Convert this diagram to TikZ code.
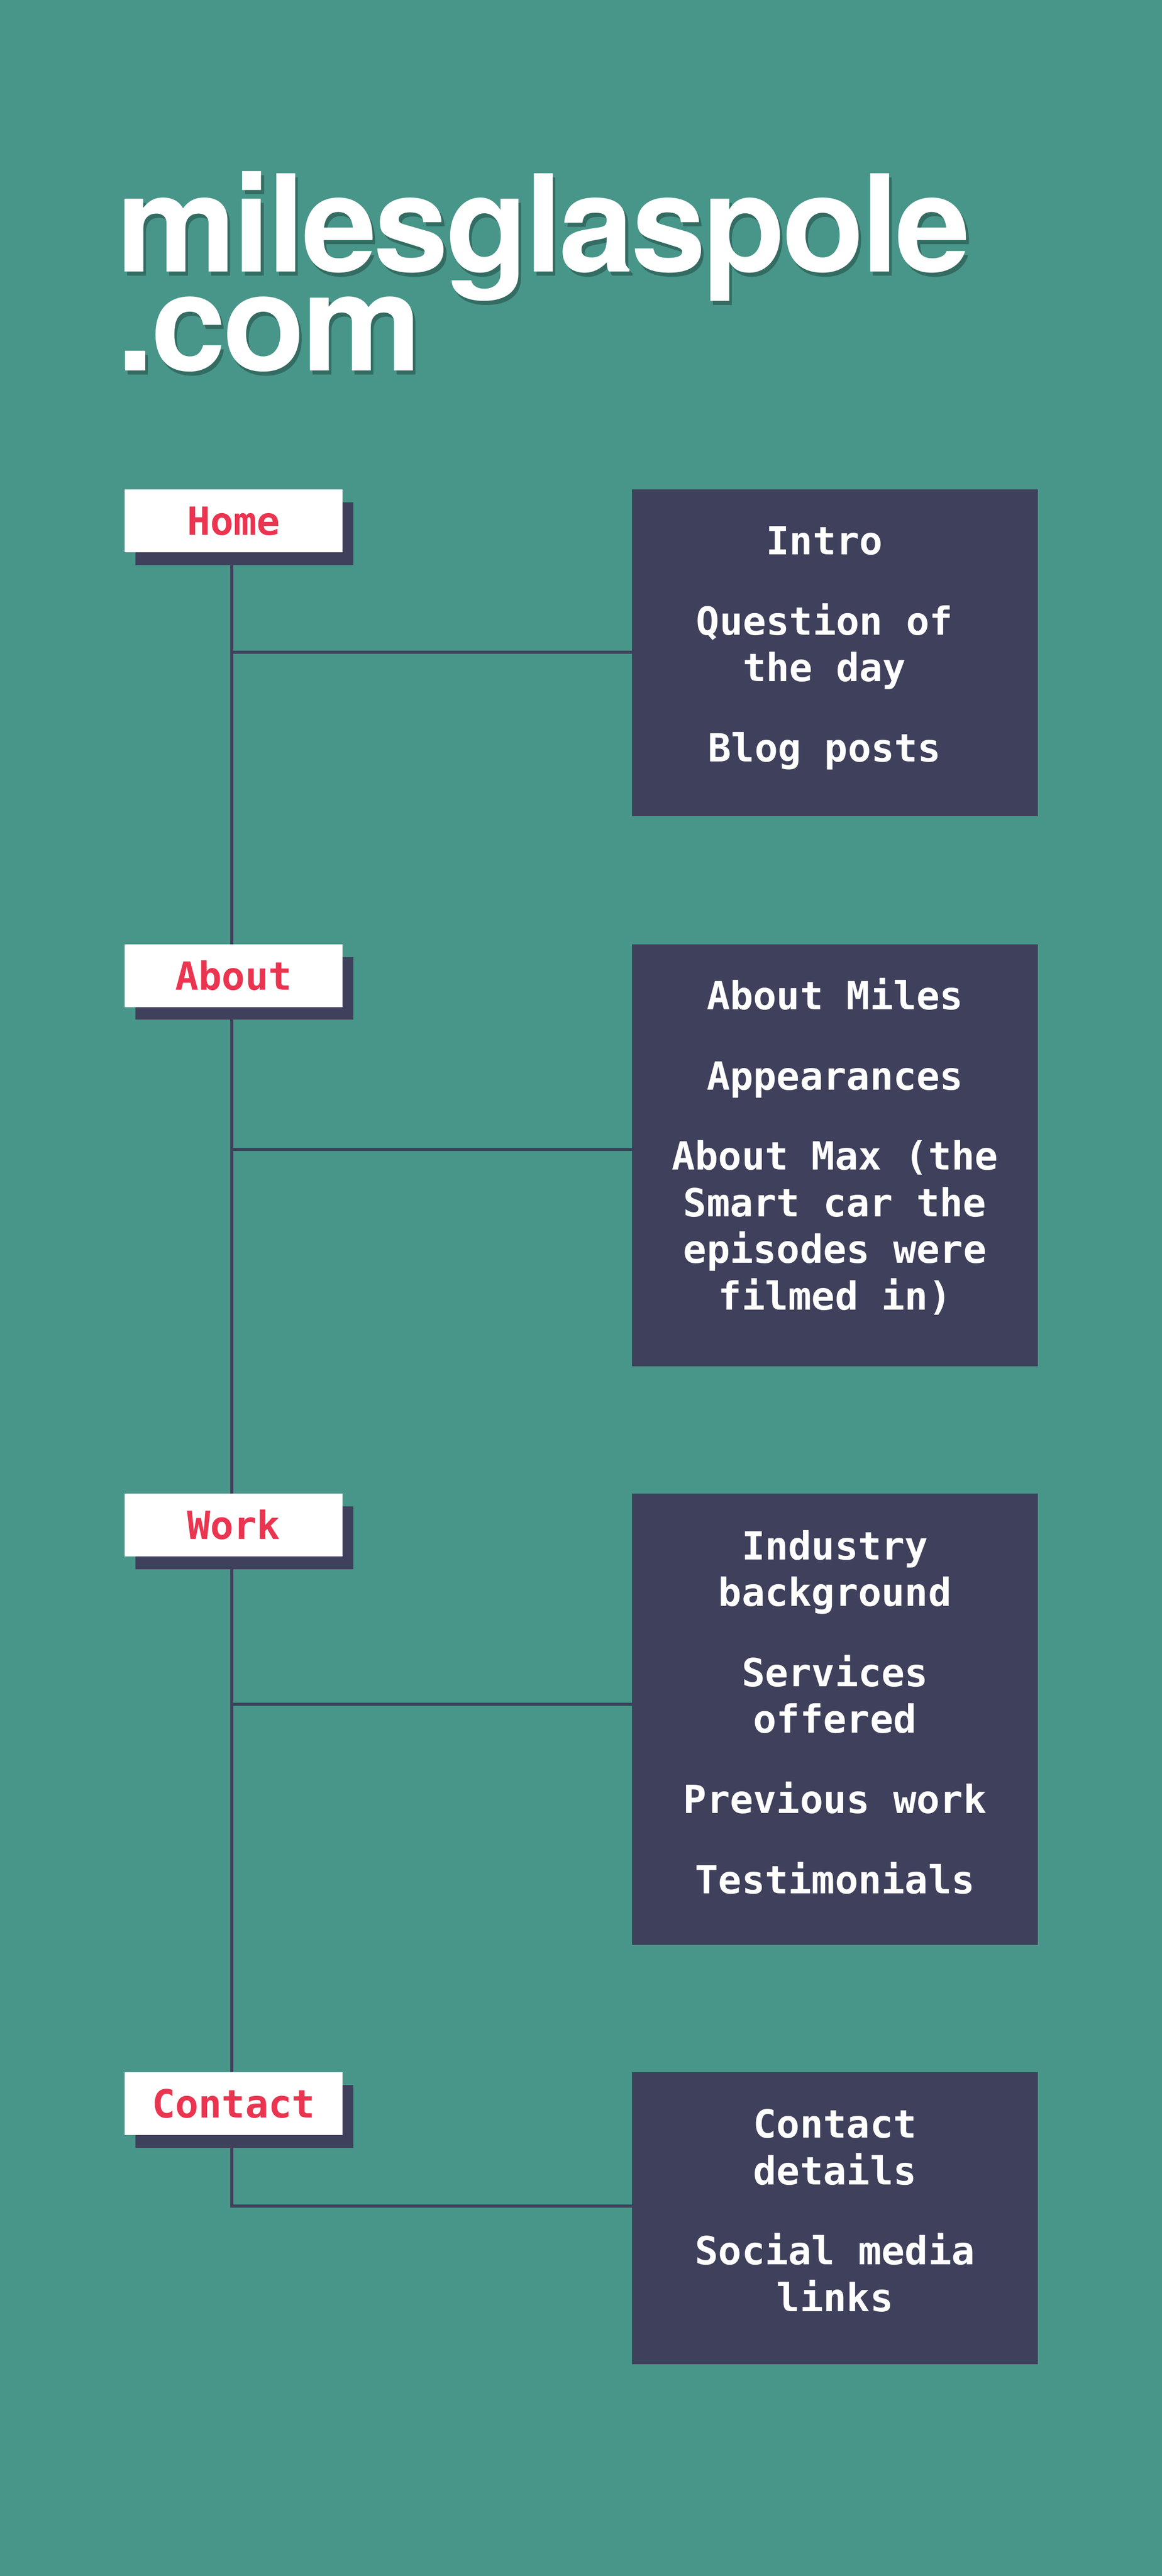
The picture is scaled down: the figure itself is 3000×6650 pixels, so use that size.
\documentclass[tikz,border=0pt]{standalone}
\usepackage{fontspec}
\usepackage{tikz}
\usetikzlibrary{positioning,shadows}
\setmainfont{TeX Gyre Heros}
\newfontfamily\titlefont{TeX Gyre Heros}[LetterSpace=-2.3]
\newfontfamily\monofont{DejaVu Sans Mono}
\definecolor{sitegreen}{RGB}{72,150,137}
\definecolor{sitenavy}{RGB}{63,64,91}
\definecolor{sitered}{RGB}{235,52,80}
\newcommand{\itemgap}{8.7mm}
\newcommand{\listfont}{\monofont\bfseries\fontsize{28.45pt}{34.2pt}\selectfont\spaceskip=0.602em\relax}
\setlength{\lineskiplimit}{-200pt}
\pgfdeclarelayer{back}
\pgfdeclarelayer{lines}
\pgfsetlayers{back,lines,main}
\tikzset{
    %Define style for the site name
    sitetitle/.style={
           anchor=north west,
           inner sep=0pt,
           align=left,
           font=\titlefont\bfseries\fontsize{99pt}{72.6pt}\selectfont,
           },
    %Define style for menu labels
    navlabel/.style={
           rectangle,
           fill=white,
           minimum width=56.3mm,
           minimum height=16.2mm,
           inner sep=0pt,
           text height=7.3mm,
           text depth=0pt,
           font=\listfont,
           text=sitered,
           drop shadow={shadow xshift=2.8mm, shadow yshift=-3.3mm,
                        fill=sitenavy, opacity=1},
           },
    %Define style for page boxes
    pagebox/.style={
           rectangle,
           fill=sitenavy,
           minimum width=104.8mm,
           inner sep=0pt,
           },
    pagelist/.style={
           anchor=base,
           inner sep=0pt,
           text width=98mm,
           align=flush center,
           text=white,
           font=\listfont,
           },
    % Define line style
    branch/.style={
           draw=sitenavy,
           line width=0.8mm,},
}

\begin{document}
\begin{tikzpicture}[x=0.1mm,y=-0.1mm]
\begin{pgfonlayer}{back}
\fill[sitegreen] (0,0) rectangle (3000,6650);
\end{pgfonlayer}

 %title
\node[sitetitle, text=black, text opacity=0.28] (shade) at (307,452) {milesglaspole\\.com};
\node[sitetitle, text=white] (title) at (300,442) {milesglaspole\\.com};

 %menu labels
\node[navlabel, anchor=north west] (home) at (321,1263) {Home};
\node[navlabel, anchor=north west] (about) at (321,2437) {About};
\node[navlabel, anchor=north west] (work) at (321,3855) {Work};
\node[navlabel, anchor=north west] (contact) at (321,5349) {Contact};

 %page boxes
\node[pagebox, minimum height=84.3mm, right=74.6mm of home.north east, anchor=north west] (homebox) {};
\node[pagebox, minimum height=108.9mm, right=74.6mm of about.north east, anchor=north west] (aboutbox) {};
\node[pagebox, minimum height=116.5mm, right=74.6mm of work.north east, anchor=north west] (workbox) {};
\node[pagebox, minimum height=75.4mm, right=74.6mm of contact.north east, anchor=north west] (contactbox) {};

\coordinate (homejoin) at ([yshift=-42.1mm]homebox.north west);
\coordinate (aboutjoin) at ([yshift=-53mm]aboutbox.north west);
\coordinate (workjoin) at ([yshift=-54.5mm]workbox.north west);
\coordinate (contactjoin) at ([yshift=-34.6mm]contactbox.north west);

 %lines
\begin{pgfonlayer}{lines}
\path[branch] ([xshift=-0.45mm]home.south) |- (contactjoin);
\path[branch] ([xshift=-0.45mm]home.south |- homejoin) -- (homejoin);
\path[branch] ([xshift=-0.45mm]home.south |- aboutjoin) -- (aboutjoin);
\path[branch] ([xshift=-0.45mm]home.south |- workjoin) -- (workjoin);
\end{pgfonlayer}

 %page lists
\node[pagelist] (homelist) at ([xshift=-2.7mm,yshift=-16.9mm]homebox.north)
  {Intro\\[\itemgap]Question of\\the day\\[\itemgap]Blog posts};
\node[pagelist] (aboutlist) at ([yshift=-16.9mm]aboutbox.north)
  {About Miles\\[\itemgap]Appearances\\[\itemgap]About Max (the\\Smart car the\\episodes were\\filmed in)};
\node[pagelist] (worklist) at ([yshift=-17.1mm]workbox.north)
  {Industry\\background\\[\itemgap]Services\\offered\\[\itemgap]Previous work\\[\itemgap]Testimonials};
\node[pagelist] (contactlist) at ([yshift=-17mm]contactbox.north)
  {Contact\\details\\[\itemgap]Social media\\links};

\end{tikzpicture}
\end{document}
